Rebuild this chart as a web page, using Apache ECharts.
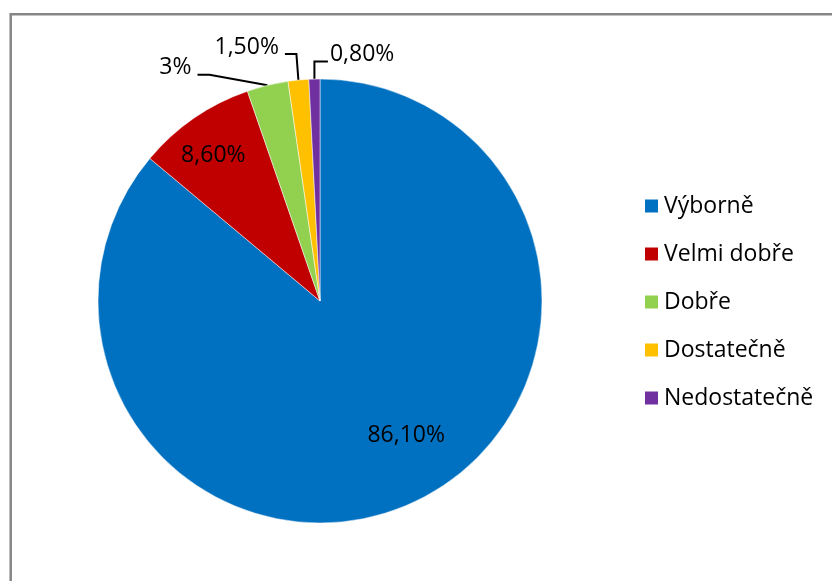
<!DOCTYPE html>
<html>
<head>
<meta charset="utf-8">
<script src="https://cdn.jsdelivr.net/npm/echarts@6/dist/echarts.min.js"></script>
<style>
html,body{margin:0;padding:0;background:#fff;}
#c{width:832px;height:581px;}
</style>
</head>
<body>
<div id="c"></div>
<script>
// ---- data ----
const categories = ['Výborně', 'Velmi dobře', 'Dobře', 'Dostatečně', 'Nedostatečně'];
const values = [86.1, 8.6, 3, 1.5, 0.8];
const valueLabels = ['86,10%', '8,60%', '3%', '1,50%', '0,80%'];

// ---- style ----
const colors = ['#0070C0', '#C00000', '#92D050', '#FFC000', '#7030A0'];
const insideLabel = [true, true, false, false, false];
// label adjustments (offsets from ECharts' default label anchor)
const insideShift = [[38, 31], [-42, -52], null, null, null];
const leaderElbow = [null, null, [-58, -10.5], [-2, -26], [0, -17.5]];
const leaderTail = [null, null, -12, -11.5, 13.5];
const FONT = '"Open Sans", "Noto Sans", sans-serif';

const chart = echarts.init(document.getElementById('c'), null, {renderer: 'canvas'});

const data = categories.map((name, i) => ({
  name: name,
  value: values[i],
  itemStyle: {color: colors[i]},
  label: {
    show: true,
    position: insideLabel[i] ? 'inside' : 'outside',
    formatter: valueLabels[i]
  },
  labelLine: {show: !insideLabel[i]}
}));

chart.setOption({
  animation: false,
  backgroundColor: '#ffffff',
  graphic: [{
    type: 'rect',
    shape: {x: 10.7, y: 14.3, width: 1000, height: 1000},
    style: {fill: 'none', stroke: '#868686', lineWidth: 2.5},
    silent: true,
    z: 0
  }],
  legend: {
    orient: 'vertical',
    left: 638,
    top: 189,
    itemWidth: 15,
    itemHeight: 15,
    itemGap: 24,
    icon: 'rect',
    data: categories,
    textStyle: {fontFamily: FONT, fontSize: 23, color: '#000', lineHeight: 24},
    selectedMode: false
  },
  series: [{
    type: 'pie',
    center: [320, 301],
    radius: 222,
    startAngle: 90,
    clockwise: true,
    avoidLabelOverlap: false,
    itemStyle: {borderColor: '#ffffff', borderWidth: 0.5},
    label: {
      fontFamily: FONT,
      fontSize: 23,
      color: '#000'
    },
    labelLine: {
      length: 20,
      length2: 12,
      smooth: false,
      lineStyle: {color: '#000', width: 2}
    },
    emphasis: {disabled: true},
    labelLayout: function (p) {
      const i = p.dataIndex;
      const r = p.labelRect;
      if (insideLabel[i]) {
        return {
          x: r.x + r.width / 2 + insideShift[i][0],
          y: r.y + r.height / 2 + insideShift[i][1],
          align: 'center',
          verticalAlign: 'middle'
        };
      }
      const p0 = p.labelLinePoints[0];
      const p1 = [p0[0] + leaderElbow[i][0], p0[1] + leaderElbow[i][1]];
      const p2 = [p1[0] + leaderTail[i], p1[1]];
      const right = leaderTail[i] > 0;
      return {
        x: p2[0] + (right ? 2 : -6),
        y: p2[1] - 7,
        align: right ? 'left' : 'right',
        verticalAlign: 'middle',
        labelLinePoints: [p0, p1, p2]
      };
    },
    data: data
  }]
});
</script>
</body>
</html>
